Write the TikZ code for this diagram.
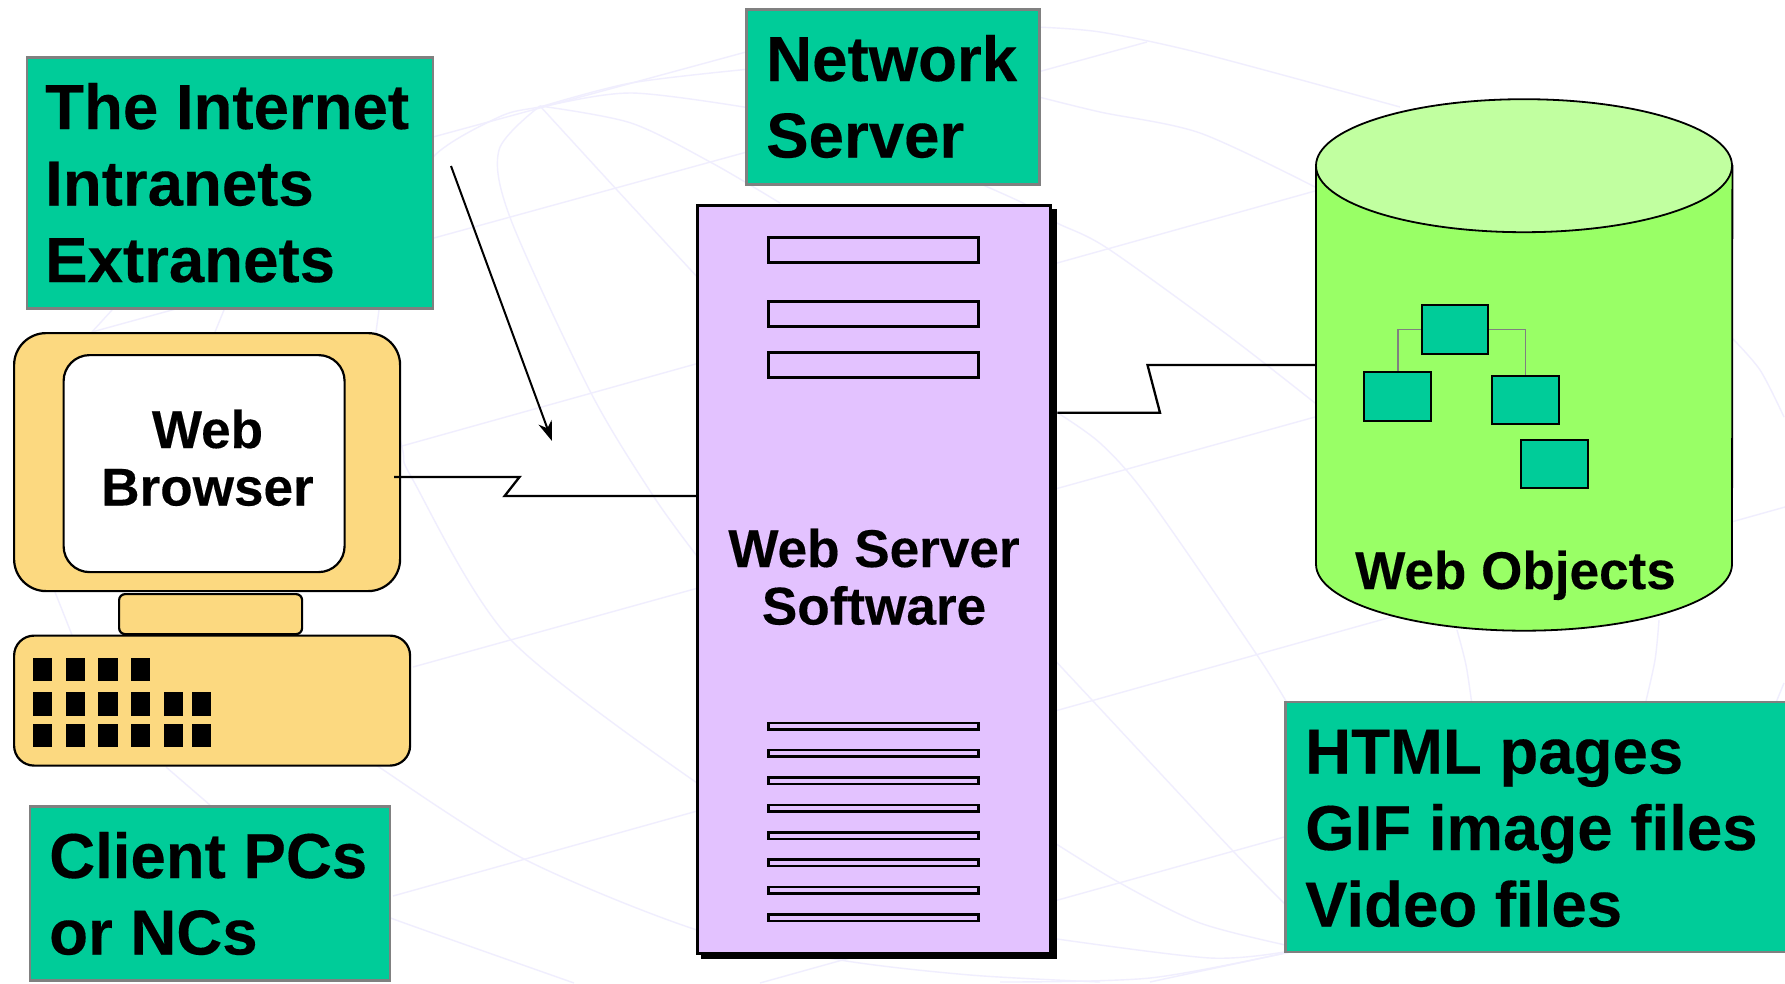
\documentclass[tikz,border=0pt]{standalone}
\usepackage{fontspec}
\setmainfont[BoldFeatures={FakeBold=0.25}]{Liberation Sans}
\usetikzlibrary{arrows.meta}
\definecolor{boxgreen}{HTML}{00CC99}
\definecolor{boxedge}{HTML}{808080}
\definecolor{pcyellow}{HTML}{FCD980}
\definecolor{srvpurple}{HTML}{E3C2FF}
\definecolor{cylbody}{HTML}{99FF66}
\definecolor{cyltop}{HTML}{C1FFA0}
\definecolor{globe}{HTML}{F0EEFE}
\newcommand{\bigfont}{\fontsize{63.6}{76.5}\selectfont\bfseries}
\newcommand{\midfont}{\fontsize{53.1}{57.5}\selectfont\bfseries}
\newcommand{\stack}[1]{\vtop{\halign{\hfil##\hfil\cr#1\crcr}}}
\tikzset{
  rect/.style n args={2}{rectangle,inner sep=0pt,anchor=north west,minimum width=#1,minimum height=#2},
  label box/.style={draw=boxedge,line width=2.5pt,fill=boxgreen},
  pc part/.style={draw=black,line width=2.2pt,fill=pcyellow},
  slot/.style={draw=black,line width=2.8pt,fill=srvpurple},
  key/.style={fill=black},
  tree box/.style={draw=black,line width=2.4pt,fill=boxgreen},
  tree link/.style={draw=boxedge,line width=1.8pt},
  txt/.style={inner sep=0pt,anchor=base west,text=black},
  ctxt/.style={inner sep=0pt,anchor=base,text=black},
  wire/.style={draw=black,line width=2.3pt,line join=miter},
  bg/.style={draw=globe,line width=1.4pt},
}
\begin{document}
\begin{tikzpicture}[x=1pt,y=-1pt]
\useasboundingbox (0,0) rectangle (1785,983);
\fill[white] (0,0) rectangle (1785,983);
% globe background: parallels
\draw[bg] (92,332) -- (1147,42);
\draw[bg] (433,137) -- (746,52);
\draw[bg] (402,446) -- (1315,191);
\draw[bg] (413,667) -- (1315,417);
\draw[bg] (393,896) -- (1785,507);
\draw[bg] (760,983) -- (1284,837);
% globe background: curves
\draw[bg] plot[smooth] coordinates {(379,310) (392,230) (433,157) (499,117) (540,107) (631,93) (750,108)};
\draw[bg] plot[smooth] coordinates {(1035,96) (1100,112) (1200,133) (1315,187)};
\draw[bg] plot[smooth] coordinates {(1731,337) (1760,370) (1784,417)};
\draw[bg] plot[smooth] coordinates {(540,107) (631,83) (750,69)};
\draw[bg] plot[smooth] coordinates {(1035,27) (1100,32) (1200,53) (1400,107)};
\draw[bg] plot[smooth] coordinates {(540,106) (631,123) (712,163) (780,203)};
\draw[bg] plot[smooth] coordinates {(1050,408) (1100,443) (1150,500) (1257,655) (1290,708)};
\draw[bg] plot[smooth] coordinates {(960,175) (1023,203) (1057,223) (1107,248) (1225,333) (1315,403)};
\draw[bg] plot[smooth] coordinates {(540,106) (617,190) (700,280)};
\draw[bg] plot[smooth] coordinates {(1050,655) (1092,700) (1232,850) (1290,909)};
\draw[bg] plot[smooth] coordinates {(540,106) (499,150) (511,220) (591,393) (654,497) (700,560)};
\draw[bg] plot[smooth] coordinates {(1050,840) (1120,883) (1200,923) (1290,946)};
\draw[bg] plot[smooth] coordinates {(376,332) (402,447) (413,480) (511,640) (700,785)};
\draw[bg] plot[smooth] coordinates {(1050,938) (1210,958) (1290,951)};
\draw[bg] (379,310) -- (376,332);
\draw[bg] (224,310) -- (215,332);
\draw[bg] (112,310) -- (92,332);
\draw[bg] plot[smooth] coordinates {(360,750) (379,767) (522,858) (697,930) (840,960) (970,975) (1100,982)};
\draw[bg] plot[smooth] coordinates {(55,592) (72,635)};
\draw[bg] plot[smooth] coordinates {(166,767) (210,805)};
\draw[bg] plot[smooth] coordinates {(385,914) (396,920) (574,983)};
\draw[bg] plot[smooth] coordinates {(1000,982) (1150,978) (1290,952)};
\draw[bg] (1150,982) -- (1290,952);
\draw[bg] plot[smooth] coordinates {(1457,630) (1466,665) (1472,705)};
\draw[bg] plot[smooth] coordinates {(1659,620) (1655,660) (1645,705)};
\draw[bg] (1784,683) -- (1775,705);
% label boxes
\node[rect={406pt}{251pt},label box] (internet) at (25.5,56) {};
\node[txt] (internetText) at (45,129) {\bigfont\vtop{\hbox{The Internet}\hbox{Intranets}\hbox{Extranets}}};
\node[rect={293pt}{175pt},label box] (network) at (745,8) {};
\node[txt] (networkText) at (766,81) {\bigfont\vtop{\hbox{Network}\hbox{Server}}};
\node[rect={360pt}{174pt},label box] (client) at (28.5,805) {};
\node[txt] (clientText) at (49,878) {\bigfont\vtop{\hbox{Client PCs}\hbox{or NCs}}};
\node[rect={503pt}{250pt},label box] (html) at (1284,700.5) {};
\node[txt] (htmlText) at (1305,773.5) {\bigfont\vtop{\hbox{HTML pages}\hbox{GIF image files}\hbox{Video files}}};
% client PC
\node[rect={386pt}{258pt},pc part,rounded corners=32pt] (monitor) at (13,332) {};
\node[rect={281pt}{217pt},draw=black,line width=2.2pt,fill=white,rounded corners=26pt] (screen) at (62.5,354) {};
\node[ctxt] (screenText) at (207.5,448) {\midfont\stack{Web\cr Browser}};
\node[rect={183pt}{40pt},pc part,rounded corners=6pt] (stand) at (118,593) {};
\node[rect={396pt}{130pt},pc part,rounded corners=20pt] (base) at (13,634.5) {};
\foreach \i/\kx/\kw in {1/32.7/19,2/65.4/19,3/98/19.5,4/131/19}{
  \node[rect={\kw pt}{23.5pt},key] (keyA\i) at (\kx,657.7) {};}
\foreach \i/\kx/\kw in {1/32.7/19,2/65.4/19,3/98/19.5,4/131/19,5/164/19,6/192/19}{
  \node[rect={\kw pt}{23.5pt},key] (keyB\i) at (\kx,692) {};
  \node[rect={\kw pt}{23.5pt},key] (keyC\i) at (\kx,723.7) {};}
% server
\node[rect={356pt}{750pt},fill=black] (shadow) at (701,209) {};
\node[rect={353pt}{748pt},draw=black,line width=2.6pt,fill=srvpurple] (server) at (696,204) {};
\foreach \i/\sy in {1/236,2/300,3/351}{
  \node[rect={210pt}{25pt},slot] (slotTop\i) at (767,\sy) {};}
\foreach \i/\sy in {1/721.5,2/748.5,3/776,4/803.5,5/831,6/858,7/885.5,8/913}{
  \node[rect={210pt}{6.5pt},slot] (slotLow\i) at (767,\sy) {};}
\node[ctxt] (serverText) at (874,567) {\midfont\stack{Web Server\cr Software}};
% web objects cylinder
\node[rect={416pt}{531.5pt}] (cyl) at (1316,99.3) {};
\draw[draw=black,line width=1.8pt,fill=cylbody] (cyl.north west |- 0,165.7) -- (1316,564.2) arc[start angle=180,end angle=360,x radius=208pt,y radius=66.5pt] -- (cyl.north east |- 0,165.7) -- cycle;
\draw[draw=black,line width=1.8pt,fill=cyltop] (1524,165.7) ellipse[x radius=208pt,y radius=66.5pt];
\node[txt] (cylText) at (1355,589) {\midfont Web Objects};
% tree
\node[rect={66.5pt}{48.5pt},tree box] (treeA) at (1420.5,304) {};
\node[rect={67pt}{48.5pt},tree box] (treeB) at (1363,371) {};
\node[rect={66.5pt}{48.5pt},tree box] (treeC) at (1491,374.5) {};
\node[rect={67pt}{48pt},tree box] (treeD) at (1520,438.5) {};
\draw[tree link] (treeA.west) -| (treeB.north);
\draw[tree link] (treeA.east) -| (treeC.north);
% connectors
\coordinate (w1a) at (519.5,477);
\coordinate (w1b) at (504.6,496);
\coordinate (w1s) at (394,477);
\draw[wire] (w1s) -- (w1a) -- (w1b) -- (server.west |- w1b);
\coordinate (w2a) at (1160,412.7);
\coordinate (w2b) at (1147.5,365);
\draw[wire] (shadow.east |- w2a) -- (w2a) -- (w2b) -- (cyl.west |- w2b);
\coordinate (arrS) at (451,166);
\coordinate (arrE) at (552,441);
\draw[draw=black,line width=2pt,-{Stealth[length=20pt,width=14pt]}] (arrS) -- (arrE);
\end{tikzpicture}
\end{document}
